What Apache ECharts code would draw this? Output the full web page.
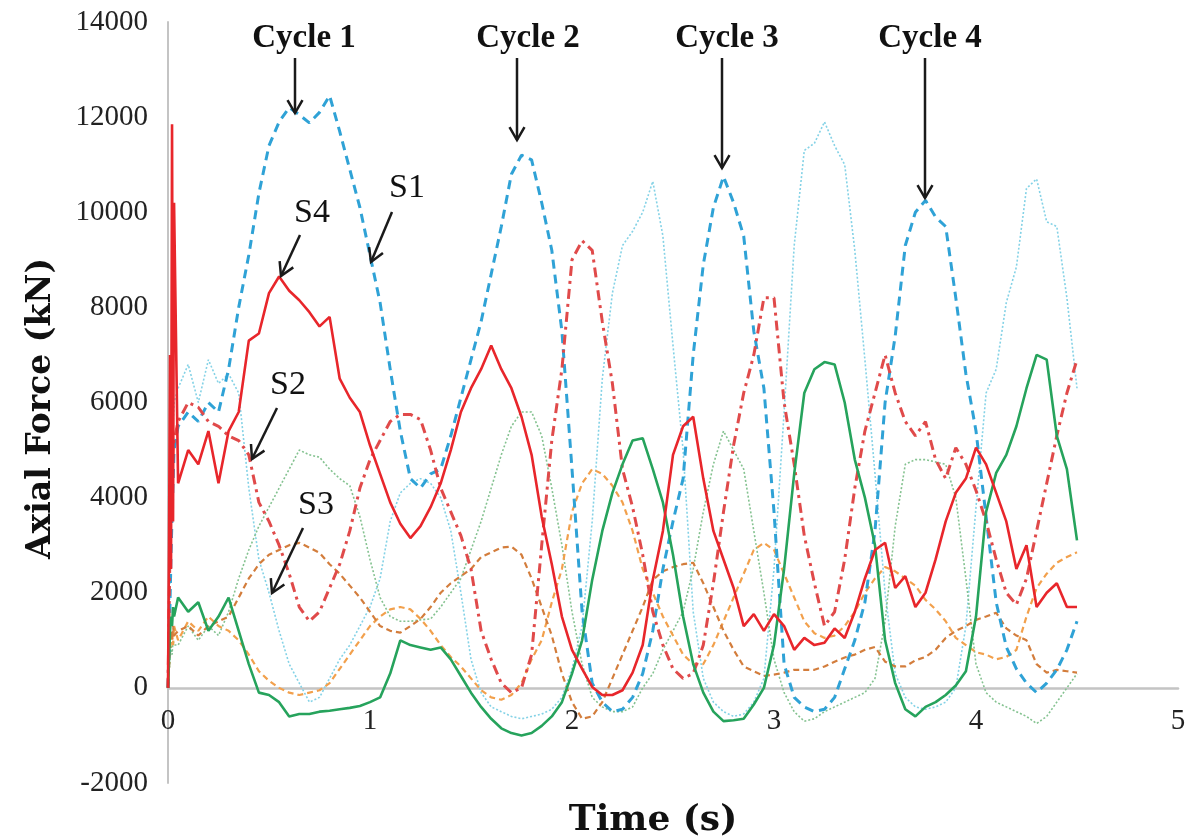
<!DOCTYPE html>
<html>
<head>
<meta charset="utf-8">
<title>Axial Force vs Time</title>
<script src="https://cdn.jsdelivr.net/npm/echarts@6/dist/echarts.min.js"></script>
<style>
  html, body { margin: 0; padding: 0; background: #fff; }
  #chart { width: 1196px; height: 839px; }
</style>
</head>
<body>
<div id="chart"></div>
<script>
// sample times (s)
const time = [0, 0.005, 0.01, 0.015, 0.02, 0.025, 0.03,
  0.05, 0.1, 0.15, 0.2, 0.25, 0.3, 0.35, 0.4, 0.45, 0.5,
  0.55, 0.6, 0.65, 0.7, 0.75, 0.8, 0.85, 0.9, 0.95, 1.0,
  1.05, 1.1, 1.15, 1.2, 1.25, 1.3, 1.35, 1.4, 1.45, 1.5,
  1.55, 1.6, 1.65, 1.7, 1.75, 1.8, 1.85, 1.9, 1.95, 2.0,
  2.05, 2.1, 2.15, 2.2, 2.25, 2.3, 2.35, 2.4, 2.45, 2.5,
  2.55, 2.6, 2.65, 2.7, 2.75, 2.8, 2.85, 2.9, 2.95, 3.0,
  3.05, 3.1, 3.15, 3.2, 3.25, 3.3, 3.35, 3.4, 3.45, 3.5,
  3.55, 3.6, 3.65, 3.7, 3.75, 3.8, 3.85, 3.9, 3.95, 4.0,
  4.05, 4.1, 4.15, 4.2, 4.25, 4.3, 4.35, 4.4, 4.45, 4.5]

// axial force (kN)
const s1Dashed = [0, 800, 1800, 2800, 3600, 4300, 5000,
  5500, 5800, 5600, 6000, 5800, 6700, 8000, 9100, 10400, 11400,
  11900, 12200, 12050, 11880, 12100, 12450, 11700, 10900, 10100, 9100,
  8100, 6700, 5400, 4400, 4200, 4500, 4600, 5300, 6100, 6900,
  7700, 8700, 9700, 10800, 11200, 11100, 10200, 9200, 7500, 4600,
  1600, 100, -300, -500, -450, -200, 300, 1200, 2500, 3500,
  4400, 7000, 8900, 10100, 10750, 10200, 9500, 7500, 6300, 3700,
  500, -200, -400, -500, -450, -200, 400, 1000, 1800, 3300,
  6000, 7400, 9300, 10000, 10250, 9900, 9700, 8200, 6600, 5400,
  3600, 1800, 860, 400, 100, -100, 100, 380, 800, 1400]

const s1Dotted = [0, 1000, 2500, 3500, 4500, 5500, 6000,
  6300, 6800, 6000, 6900, 6400, 6600, 6200, 4200, 2700, 2000,
  1200, 500, 100, -300, -200, 200, 600, 900, 1300, 1700,
  2300, 3500, 4100, 4300, 4400, 4300, 4000, 3300, 2000, 600,
  -100, -400, -500, -600, -650, -600, -550, -450, -200, 400,
  1300, 3500, 6500, 8300, 9300, 9600, 10000, 10650, 9500, 7200,
  5000, 1600, 200, -300, -500, -600, -550, -300, 200, 2500,
  5800, 9300, 11300, 11450, 11900, 11400, 11000, 9200, 6900, 4500,
  2000, 300, -200, -400, -450, -400, -300, 0, 1300, 3800,
  6200, 6700, 8100, 8850, 10500, 10700, 9800, 9700, 8200, 6300]

const s4Solid = [0, 3000, 7000, 2500, 11850, 3500, 10200,
  4300, 5000, 4700, 5400, 4300, 5400, 5800, 7300, 7450, 8300,
  8650, 8350, 8150, 7900, 7600, 7800, 6500, 6100, 5800, 5100,
  4500, 3900, 3450, 3150, 3400, 3800, 4300, 5000, 5800, 6300,
  6700, 7200, 6700, 6300, 5700, 4900, 3600, 2600, 1500, 800,
  400, 20, -150, -150, -50, 320, 900, 2270, 3300, 4900,
  5500, 5700, 4400, 3300, 2700, 2100, 1300, 1550, 1200, 1550,
  1300, 800, 1050, 900, 950, 1250, 1050, 1600, 2300, 2900,
  3050, 2100, 2350, 1700, 2000, 2700, 3500, 4100, 4400, 5050,
  4700, 4100, 3500, 2500, 3000, 1700, 2000, 2200, 1700, 1700]

const s2DashDot = [0, 1500, 3000, 4000, 4500, 5000, 5200,
  5600, 6000, 5900, 5600, 5500, 5300, 5200, 4900, 3900, 3500,
  3000, 2400, 1700, 1400, 1600, 2100, 2600, 3300, 4200, 4800,
  5200, 5600, 5750, 5750, 5640, 5000, 4200, 3700, 3200, 2500,
  1200, 600, 100, -100, 0, 700, 3000, 5200, 6700, 9000,
  9400, 9200, 7700, 6400, 4600, 3800, 2800, 1600, 900, 400,
  200, 300, 900, 2200, 3700, 5100, 6200, 7000, 8200, 8200,
  6000, 4700, 3200, 2200, 1300, 1600, 2700, 4200, 5400, 6200,
  7000, 6200, 5600, 5300, 5600, 4800, 4400, 5050, 4700, 4150,
  3500, 2700, 2000, 1750, 2300, 3300, 4300, 5300, 6200, 6900]

const s3Dashed = [0, 500, 900, 1200, 1000, 1300, 1100,
  1200, 1300, 1100, 1300, 1400, 1500, 1900, 2300, 2600, 2800,
  2900, 3000, 3050, 2950, 2840, 2600, 2400, 2150, 1900, 1600,
  1300, 1200, 1160, 1300, 1450, 1700, 2000, 2200, 2350, 2500,
  2750, 2850, 2950, 2970, 2800, 2300, 1700, 1100, 300, -300,
  -650, -600, -300, 200, 700, 1200, 1700, 2270, 2450, 2540,
  2600, 2630, 2200, 1700, 1200, 800, 450, 350, 250, 280,
  320, 380, 380, 380, 450, 550, 640, 700, 800, 860,
  550, 450, 450, 580, 650, 800, 1050, 1200, 1300, 1430,
  1500, 1580, 1250, 1100, 1000, 500, 320, 380, 350, 320]

const s3Other = [0, 400, 800, 1000, 1200, 900, 1300,
  1000, 1400, 1200, 1500, 1300, 1200, 1000, 700, 350, 150,
  0, -100, -150, -100, -50, 100, 400, 700, 1000, 1300,
  1500, 1650, 1700, 1650, 1450, 1200, 900, 650, 450, 200,
  -50, -200, -250, -150, 100, 600, 1000, 1800, 2500, 3700,
  4300, 4600, 4500, 4250, 3900, 3300, 2500, 2000, 1500, 1100,
  700, 500, 500, 900, 1400, 1900, 2400, 2900, 3050, 2900,
  2400, 1900, 1400, 1150, 1050, 1100, 1300, 1600, 2000, 2300,
  2540, 2450, 2300, 2150, 1850, 1650, 1400, 1050, 900, 750,
  700, 600, 650, 800, 1500, 2100, 2400, 2630, 2750, 2850]

const greenSolid = [0, 600, 1200, 1500, 1300, 1700, 1500,
  1900, 1600, 1800, 1200, 1500, 1900, 1200, 500, -100, -150,
  -300, -600, -550, -550, -500, -480, -450, -420, -380, -300,
  -200, 300, 1000, 900, 850, 800, 850, 600, 250, -100,
  -400, -650, -850, -950, -1000, -950, -800, -600, -300, 300,
  1000, 2270, 3300, 4100, 4700, 5200, 5250, 4600, 3900, 2800,
  1500, 500, -100, -500, -700, -680, -650, -350, 0, 900,
  2500, 4500, 6200, 6700, 6850, 6800, 6000, 4800, 4000, 3000,
  1000, 100, -450, -600, -400, -300, -150, 50, 350, 1500,
  3700, 4520, 4900, 5500, 6300, 7000, 6900, 5300, 4600, 3100]

const greenDotted = [0, 300, 600, 900, 700, 1000, 900,
  900, 1300, 1000, 1300, 1100, 1600, 2300, 2900, 3400, 3800,
  4200, 4600, 5000, 4900, 4850, 4600, 4400, 4250, 3600, 2700,
  1900, 1500, 1400, 1400, 1430, 1450, 1700, 2000, 2300, 2900,
  3500, 4200, 4900, 5500, 5800, 5800, 5300, 4200, 3000, 1600,
  500, -200, -400, -500, -500, -400, 0, 300, 800, 1200,
  1600, 2500, 3700, 4700, 5400, 5000, 4600, 3300, 2000, 600,
  -100, -500, -700, -650, -500, -400, -300, -200, -100, 200,
  1400, 3400, 4700, 4800, 4800, 4750, 4700, 4000, 2300, 500,
  -100, -300, -400, -500, -600, -750, -600, -300, 0, 300]

const xTicks = [0, 1, 2, 3, 4, 5]
const yTicks = [-2000, 14000, 2000]

const serif = "'Liberation Serif', 'Times New Roman', serif"
const wideSerif = "'DejaVu Serif', 'Liberation Serif', serif"

// labels and arrows of the figure, in pixels
const notes = [
  { text: 'Cycle 1', x: 304, y: 38, bold: true, from: [295, 58], to: [295, 113] },
  { text: 'Cycle 2', x: 528, y: 38, bold: true, from: [517, 58], to: [517, 140] },
  { text: 'Cycle 3', x: 727, y: 38, bold: true, from: [722, 58], to: [722, 168] },
  { text: 'Cycle 4', x: 930, y: 38, bold: true, from: [925, 58], to: [925, 198] },
  { text: 'S4', x: 312, y: 213, from: [300, 235], to: [281, 276] },
  { text: 'S1', x: 407, y: 188, from: [392, 212], to: [371, 262] },
  { text: 'S2', x: 288, y: 385, from: [277, 408], to: [252, 459] },
  { text: 'S3', x: 316, y: 505, from: [303, 528], to: [272, 593] }
]

function pairs(values) {
  return time.map(function (t, i) { return [t, values[i]] })
}

function line(values, color, width, dash) {
  return {
    type: 'line',
    data: pairs(values),
    showSymbol: false,
    symbol: 'none',
    smooth: false,
    silent: true,
    lineStyle: { color: color, width: width, type: dash }
  }
}

function arrow(from, to) {
  const dx = to[0] - from[0]
  const dy = to[1] - from[1]
  const len = Math.sqrt(dx * dx + dy * dy)
  const ux = dx / len
  const uy = dy / len
  const L = 15
  const a = Math.PI / 6
  const c = Math.cos(a)
  const s = Math.sin(a)
  const p1 = [to[0] - L * (ux * c - uy * s), to[1] - L * (uy * c + ux * s)]
  const p2 = [to[0] - L * (ux * c + uy * s), to[1] - L * (uy * c - ux * s)]
  return [
    { type: 'line', z: 100, shape: { x1: from[0], y1: from[1], x2: to[0], y2: to[1] },
      style: { stroke: '#1a1a1a', lineWidth: 2.5 } },
    { type: 'polyline', z: 100, shape: { points: [p1, to, p2] },
      style: { stroke: '#1a1a1a', lineWidth: 2.5, fill: null } }
  ]
}

const graphics = []
notes.forEach(function (n) {
  graphics.push({
    type: 'text', z: 100,
    style: {
      text: n.text, x: n.x, y: n.y,
      font: (n.bold ? 'bold 33px ' : '34px ') + serif,
      fill: '#111', align: 'center', verticalAlign: 'middle'
    }
  })
  arrow(n.from, n.to).forEach(function (g) { graphics.push(g) })
})

const chart = echarts.init(document.getElementById('chart'))
chart.setOption({
  backgroundColor: '#fff',
  animation: false,
  grid: [
    // plot area, -2000 .. 14000
    { left: 168, right: 18, top: 22, bottom: 56, containLabel: false, outerBoundsMode: 'none' },
    // same width, bottom edge on the zero line: carries the time labels
    { left: 168, right: 18, top: 22, bottom: 151, containLabel: false, outerBoundsMode: 'none' }
  ],
  xAxis: [
    {
      type: 'value',
      gridIndex: 0,
      min: xTicks[0],
      max: xTicks[xTicks.length - 1],
      interval: 1,
      axisLine: { onZero: true, lineStyle: { color: '#c4c4c4', width: 2.5 } },
      axisTick: { show: false },
      splitLine: { show: false },
      axisLabel: { show: false }
    },
    {
      type: 'value',
      gridIndex: 1,
      min: xTicks[0],
      max: xTicks[xTicks.length - 1],
      interval: 1,
      name: 'Time (s)',
      nameLocation: 'middle',
      nameGap: 115,
      nameTextStyle: {
        fontFamily: wideSerif, fontWeight: 'bold', fontSize: 36, color: '#111',
        padding: [0, 40, 0, 0]
      },
      axisLine: { show: false, onZero: false },
      axisTick: { show: false },
      splitLine: { show: false },
      axisLabel: { fontFamily: serif, fontSize: 29, color: '#222', margin: 19 }
    }
  ],
  yAxis: [
    {
      type: 'value',
      gridIndex: 0,
      min: yTicks[0],
      max: yTicks[1],
      interval: yTicks[2],
      name: 'Axial Force (kN)',
      nameLocation: 'middle',
      nameGap: 110,
      nameRotate: 90,
      nameTextStyle: {
        fontFamily: wideSerif, fontWeight: 'bold', fontSize: 33, color: '#111',
        padding: [0, 12, 0, 0]
      },
      axisLine: { show: true, onZero: false, lineStyle: { color: '#c4c4c4', width: 2 } },
      axisTick: { show: false },
      splitLine: { show: false },
      axisLabel: {
        fontFamily: serif, fontSize: 29, color: '#222', margin: 20,
        formatter: function (v) { return String(v) }
      }
    },
    {
      type: 'value',
      gridIndex: 1,
      min: 0,
      max: 1,
      show: false
    }
  ],
  series: [
    line(s1Dotted, '#84d2e6', 1.6, [2, 2]),
    line(greenDotted, '#84c290', 1.6, [2, 2]),
    line(s3Other, '#f2a04c', 2.2, [6, 4]),
    line(s3Dashed, '#d37d3c', 2.2, [6, 4]),
    line(s1Dashed, '#2fa2d6', 3, [9, 6]),
    line(s2DashDot, '#e04a4a', 3, [10, 5, 3, 5]),
    line(greenSolid, '#26a35c', 2.6, 'solid'),
    line(s4Solid, '#e8262b', 2.6, 'solid')
  ],
  graphic: graphics
})
</script>
</body>
</html>
